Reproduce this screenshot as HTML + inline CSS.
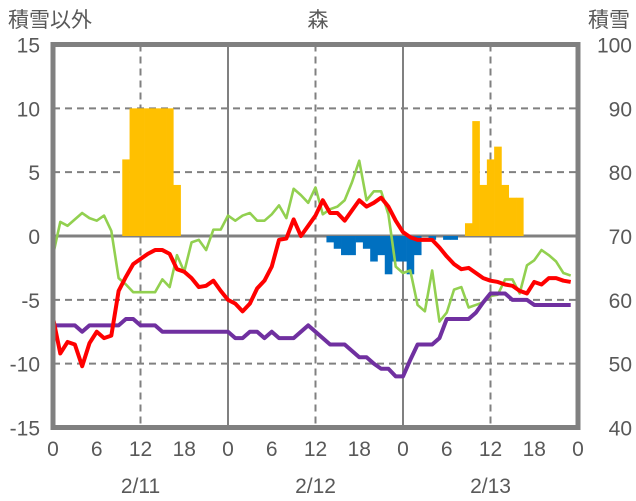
<!DOCTYPE html>
<html><head><meta charset="utf-8"><style>
html,body{margin:0;padding:0;background:#fff;}
svg{display:block;font-family:"Liberation Sans","Noto Sans CJK JP",sans-serif;}
</style></head><body>
<svg id="chart" width="636" height="501" viewBox="0 0 636 501" xmlns="http://www.w3.org/2000/svg">
<g id="grid"></g>
<g id="bars"></g>
<g id="lines"></g>
<g id="frame"></g>
<g id="labels"></g>
<text x="8" y="27" font-size="21" fill="#595959">積雪以外</text>
<text x="318" y="27" font-size="21" fill="#595959" text-anchor="middle">森</text>
<text x="630" y="27" font-size="21" fill="#595959" text-anchor="end">積雪</text>
</svg>
<script>
const leftTicks=[15,10,5,0,-5,-10,-15];
const rightTicks=[100,90,80,70,60,50,40];
const xTickLabels=['0','6','12','18','0','6','12','18','0','6','12','18','0'];
const dateLabels=['2/11','2/12','2/13'];
const redSeries=[-6.4,-9.2,-8.3,-8.5,-10.2,-8.4,-7.5,-8,-7.8,-4.3,-3.2,-2.2,-1.8,-1.4,-1.1,-1.1,-1.4,-2.6,-2.8,-3.3,-4,-3.9,-3.5,-4.3,-5,-5.3,-5.9,-5.3,-4.1,-3.5,-2.4,-0.3,-0.2,1.3,0,0.8,1.6,2.8,1.8,1.8,1.2,2.0,2.8,2.3,2.6,3.0,2.3,1.2,0.3,-0.1,-0.3,-0.3,-0.3,-0.9,-1.6,-2.2,-2.6,-2.5,-2.9,-3.3,-3.5,-3.6,-3.8,-3.9,-4.3,-4.5,-3.6,-3.8,-3.3,-3.3,-3.5,-3.6];
const greenSeries=[-1.5,1.1,0.8,1.3,1.8,1.4,1.2,1.6,0.4,-3.3,-3.8,-4.4,-4.4,-4.4,-4.4,-3.4,-4,-1.5,-2.8,-0.5,-0.3,-1.1,0.5,0.5,1.6,1.2,1.6,1.8,1.2,1.2,1.7,2.4,1.4,3.7,3.2,2.6,3.8,1.7,2.1,2.3,2.8,4.2,5.9,2.8,3.5,3.5,1.7,-2.4,-2.9,-2.7,-5.4,-5.9,-2.7,-6.7,-6,-4.2,-4,-5.6,-5.4,-5.2,-4.7,-4.6,-3.4,-3.4,-4.5,-2.3,-1.9,-1.1,-1.5,-2.0,-2.9,-3.1];
const purpleSeries=[-7,-7,-7,-7,-7.5,-7,-7,-7,-7,-7,-6.5,-6.5,-7,-7,-7,-7.5,-7.5,-7.5,-7.5,-7.5,-7.5,-7.5,-7.5,-7.5,-7.5,-8,-8,-7.5,-7.5,-8,-7.5,-8,-8,-8,-7.5,-7,-7.5,-8,-8.5,-8.5,-8.5,-9,-9.5,-9.5,-10,-10.4,-10.4,-11,-11,-9.7,-8.5,-8.5,-8.5,-8,-6.5,-6.5,-6.5,-6.5,-6,-5.2,-4.5,-4.5,-4.5,-5,-5,-5,-5.4,-5.4,-5.4,-5.4,-5.4,-5.4];
const barHours=[10,11,12,13,14,15,16,17,38,39,40,41,42,43,44,45,46,47,48,49,50,52,54,55,57,58,59,60,61,62,63,64];
const barValues=[82,90,90,90,90,90,90,78,69,68,67,67,69,68,66,67,64,66,66,64,67,69.4,69.4,69.4,72,88,78,82,84,78,76,76];

const NS='http://www.w3.org/2000/svg';
const X0=53,X1=578,Y0=44.5,Y1=427.5,HOURS=72;
const xs=h=>X0+(X1-X0)*h/HOURS;
const yl=v=>Y0+(15-v)/30*(Y1-Y0);
const yr=v=>Y0+(100-v)/60*(Y1-Y0);
function mk(tag,attrs,parent){const e=document.createElementNS(NS,tag);for(const k in attrs)e.setAttribute(k,attrs[k]);parent.appendChild(e);return e;}
const grid=document.getElementById('grid'),bars=document.getElementById('bars'),lines=document.getElementById('lines'),frame=document.getElementById('frame'),labels=document.getElementById('labels');

leftTicks.forEach((v,i)=>{
  if(v!==15&&v!==-15&&v!==0){const l=mk('line',{x1:X0,x2:X1,y1:yl(v),y2:yl(v),stroke:'#808080','stroke-width':2,'stroke-dasharray':'7,5'},grid);
  
  }
  const t=mk('text',{x:40,y:yl(v)+8,'font-size':21,fill:'#595959','text-anchor':'end'},labels);t.textContent=v;
  
  
});
rightTicks.forEach(v=>{
  const t=mk('text',{x:632,y:yr(v)+8,'font-size':21,fill:'#595959','text-anchor':'end'},labels);t.textContent=v;
  
  
});
[12,36,60].forEach(h=>{const l=mk('line',{x1:xs(h),x2:xs(h),y1:Y0,y2:Y1,stroke:'#808080','stroke-width':2,'stroke-dasharray':'7,5'},grid);
  
  });
[24,48].forEach(h=>{const l=mk('line',{x1:xs(h),x2:xs(h),y1:Y0,y2:Y1,stroke:'#808080','stroke-width':2},grid);
  
  });

const bw=(X1-X0)/HOURS;
barHours.forEach((h,i)=>{const v=barValues[i];const y0=yr(70),y1=yr(v);
  const r=mk('rect',{x:xs(h)-bw/2,width:bw+0.3,y:Math.min(y0,y1),height:Math.abs(y1-y0),fill:v>=70?'#FFC000':'#0070C0'},bars);
  
  });

const zl=mk('line',{x1:X0,x2:X1,y1:yl(0),y2:yl(0),stroke:'#808080','stroke-width':3},grid);



function series(arr,color,w,name){const p=mk('polyline',{points:arr.map((v,i)=>xs(i)+','+yl(v)).join(' '),fill:'none',stroke:color,'stroke-width':w,'stroke-linejoin':'round'},lines);
  
  }
series(greenSeries,'#92D050',2.6,'green-series-line');
series(purpleSeries,'#7030A0',4,'purple-series-line');
series(redSeries,'#FF0000',4,'red-series-line');

const fr=mk('rect',{x:X0,y:Y0,width:X1-X0,height:Y1-Y0,fill:'none',stroke:'#808080','stroke-width':5},frame);



xTickLabels.forEach((s,i)=>{const t=mk('text',{x:xs(i*6),y:456,'font-size':21,fill:'#595959','text-anchor':'middle'},labels);t.textContent=s;
  
  });
dateLabels.forEach((s,i)=>{const t=mk('text',{x:xs(12+24*i),y:493,'font-size':21,fill:'#595959','text-anchor':'middle'},labels);t.textContent=s;
  
  });
</script>
</body></html>
